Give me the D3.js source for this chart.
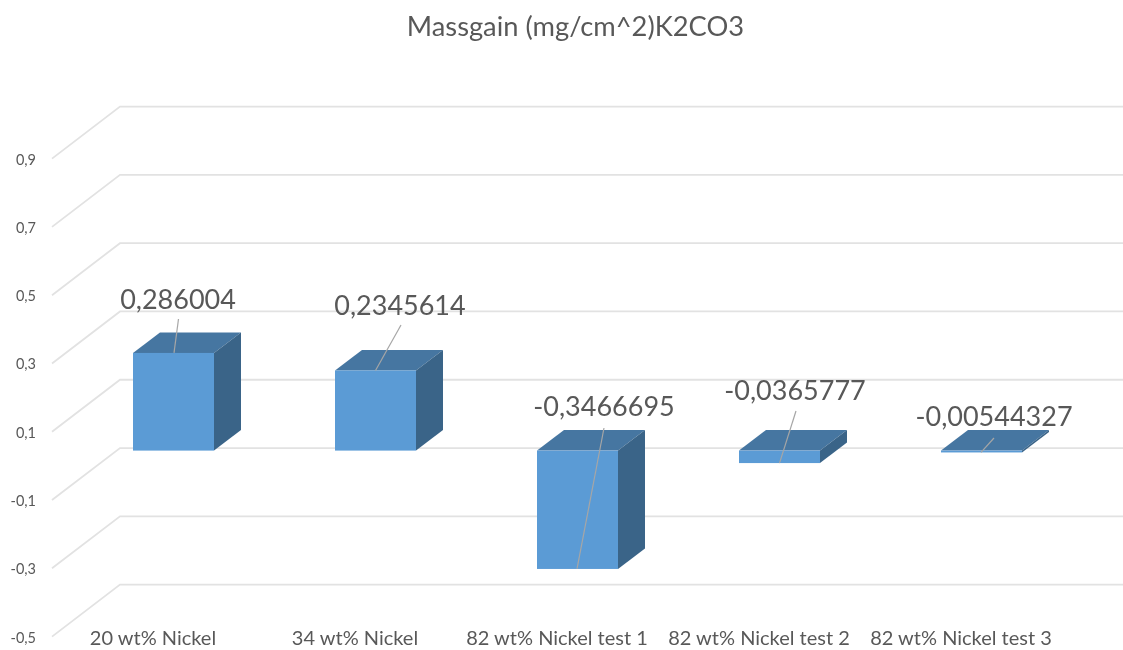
<!DOCTYPE html>
<html><head><meta charset="utf-8">
<script src="https://cdn.jsdelivr.net/npm/d3@7"></script>
<style>html,body{margin:0;background:#fff}svg{display:block}text{font-family:Lato,"Open Sans",sans-serif;fill:#595959}</style>
</head><body><script>
const chartTitle = "Massgain (mg/cm^2)K2CO3";
const categories = ["20 wt% Nickel","34 wt% Nickel","82 wt% Nickel test 1","82 wt% Nickel test 2","82 wt% Nickel test 3"];
const values = [0.286004,0.2345614,-0.3466695,-0.0365777,-0.00544327];
const valueLabels = ["0,286004","0,2345614","-0,3466695","-0,0365777","-0,00544327"];
const yTicks = [-0.5,-0.3,-0.1,0.1,0.3,0.5,0.7,0.9];

// layout only
const W=1123,H=650;
const labelCentres=[[178,300],[400,306],[604,407],[795,391],[994,417]];
const leaderStarts=[[178.5,319],[401,325],[604,428],[796,411],[994,438]];
const leaderShift=[0.5,0,-0.5,0,-0.5];
const svg=d3.select("body").append("svg").attr("width",W).attr("height",H);
const defs=svg.append("defs");
defs.append("filter").attr("id","soft").append("feGaussianBlur").attr("stdDeviation",0.35);

const y=d3.scaleLinear().domain([-0.5,0.9]).range([636.6,158.6]);
const x=d3.scaleBand().domain(categories).range([72.5,1082.5]).paddingInner(0.599).paddingOuter(0.2995);
const wallDx=68,wallDy=52;          // full floor depth
const frontDx=20.5,frontDy=15.3;    // bar front plane
const barDx=27,barDy=20.5;          // bar depth

svg.append("text").attr("x",575.5).attr("y",36).attr("text-anchor","middle").attr("font-size",27.3).attr("filter","url(#soft)").text(chartTitle);

// gridlines
const grid=svg.append("g").attr("fill","none").attr("stroke","#e2e2e2").attr("stroke-width",1.8);
grid.selectAll("path").data(yTicks).join("path")
  .attr("d",v=>{const p=d3.path();p.moveTo(52,y(v));p.lineTo(52+wallDx,y(v)-wallDy);p.lineTo(W,y(v)-wallDy);return p.toString();});

// axes
const yAxis=svg.append("g").attr("transform","translate(43,0)")
  .call(d3.axisLeft(y).tickValues(yTicks).tickSize(0).tickPadding(7).tickFormat(d=>d3.format(".1f")(d).replace(".",",").replace("−","-")));
yAxis.select(".domain").remove();
yAxis.selectAll("text").attr("font-size",14.5).attr("dy","0.38em").attr("filter","url(#soft)");
const xAxis=svg.append("g").attr("transform",`translate(${-frontDx},630)`)
  .call(d3.axisBottom(x).tickSize(0).tickPadding(0));
xAxis.select(".domain").remove();
xAxis.selectAll("text").attr("font-size",20).attr("y",1).attr("dy","0.71em").attr("filter","url(#soft)");

// bars
const b0=y(0)-frontDy;
const yv=v=>y(v)-frontDy;
const poly=(sel,cls,fill,fn)=>sel.append("path").attr("class",cls).attr("fill",fill).attr("d",fn);
const bars=svg.append("g").selectAll("g").data(categories.map((c,i)=>({c,v:values[i]}))).join("g");
poly(bars,"top","#4676a1",d=>{const l=x(d.c),r=l+x.bandwidth(),t=Math.min(yv(d.v),b0);
  return `M${l},${t}L${l+barDx},${t-barDy}L${r+barDx},${t-barDy}L${r},${t}Z`;});
poly(bars,"side","#3a6488",d=>{const r=x(d.c)+x.bandwidth(),t=Math.min(yv(d.v),b0),b=Math.max(yv(d.v),b0);
  return `M${r},${t}L${r+barDx},${t-barDy}L${r+barDx},${b-barDy}L${r},${b}Z`;});
bars.append("rect").attr("fill","#5b9bd5")
  .attr("x",d=>x(d.c)).attr("width",x.bandwidth())
  .attr("y",d=>Math.min(yv(d.v),b0)).attr("height",d=>Math.abs(yv(d.v)-b0));

// leaders and labels
const leaders=svg.append("g").attr("stroke","#a6a6a6").attr("stroke-width",1.2);
leaders.selectAll("line").data(categories).join("line")
  .attr("x1",(c,i)=>leaderStarts[i][0]).attr("y1",(c,i)=>leaderStarts[i][1])
  .attr("x2",(c,i)=>x(c)+x.bandwidth()/2+leaderShift[i])
  .attr("y2",(c,i)=>yv(values[i]));
svg.append("g").selectAll("text").data(valueLabels).join("text")
  .attr("x",(t,i)=>labelCentres[i][0]).attr("y",(t,i)=>labelCentres[i][1]).attr("dy","0.35em")
  .attr("text-anchor","middle").attr("font-size",27).attr("filter","url(#soft)").text(t=>t);
</script></body></html>
